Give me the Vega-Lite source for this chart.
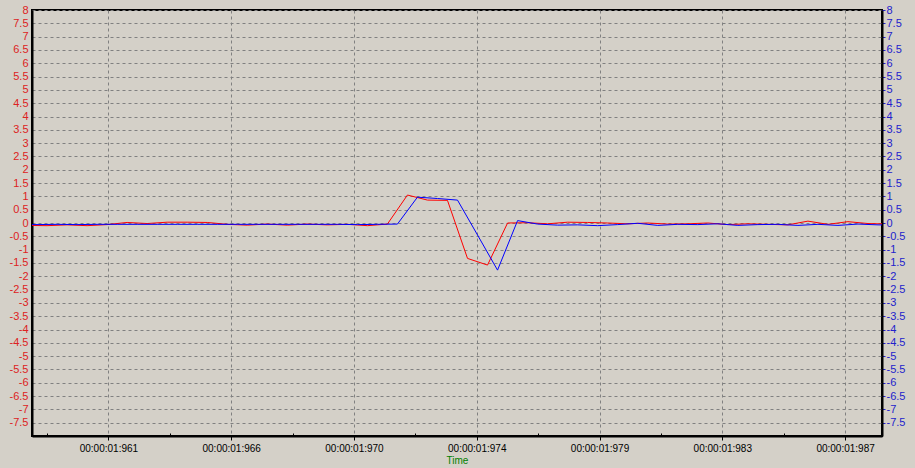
{
  "$schema": "https://vega.github.io/schema/vega-lite/v6.json",
  "width": 850,
  "height": 426,
  "autosize": {"type": "none"},
  "padding": {"left": 32, "top": 10, "right": 33, "bottom": 32},
  "background": "#d4d0c8",
  "config": {
    "view": {"stroke": "#000000", "strokeWidth": 2, "fill": "#d4d0c8"},
    "axis": {"labelFont": "Liberation Sans", "titleFont": "Liberation Sans"}
  },
  "datasets": {
    "red": [
      {"t": 958.793, "v": -0.09}, {"t": 959.500, "v": -0.10}, {"t": 960.207, "v": -0.07}, {"t": 960.913, "v": -0.10},
      {"t": 961.620, "v": -0.06}, {"t": 962.327, "v": 0.02}, {"t": 963.034, "v": -0.02}, {"t": 963.740, "v": 0.03},
      {"t": 964.447, "v": 0.03}, {"t": 965.154, "v": 0.02}, {"t": 965.861, "v": -0.05}, {"t": 966.567, "v": -0.08},
      {"t": 967.274, "v": -0.04}, {"t": 967.981, "v": -0.08}, {"t": 968.687, "v": -0.04}, {"t": 969.394, "v": -0.07},
      {"t": 970.101, "v": -0.05}, {"t": 970.808, "v": -0.10}, {"t": 971.514, "v": -0.04}, {"t": 972.221, "v": 1.05},
      {"t": 972.928, "v": 0.86}, {"t": 973.634, "v": 0.85}, {"t": 974.341, "v": -1.33}, {"t": 975.048, "v": -1.58},
      {"t": 975.755, "v": 0.00}, {"t": 976.461, "v": 0.01}, {"t": 977.168, "v": -0.03}, {"t": 977.875, "v": 0.03},
      {"t": 978.581, "v": 0.02}, {"t": 979.288, "v": 0.00}, {"t": 979.995, "v": -0.03}, {"t": 980.702, "v": 0.00},
      {"t": 981.408, "v": -0.04}, {"t": 982.115, "v": -0.03}, {"t": 982.822, "v": 0.00}, {"t": 983.529, "v": -0.06},
      {"t": 984.235, "v": -0.03}, {"t": 984.942, "v": -0.05}, {"t": 985.649, "v": -0.07}, {"t": 986.355, "v": 0.07},
      {"t": 987.062, "v": -0.05}, {"t": 987.769, "v": 0.05}, {"t": 988.476, "v": -0.02}, {"t": 989.182, "v": -0.04}
    ],
    "blue": [
      {"t": 958.440, "v": -0.05}, {"t": 959.147, "v": -0.06}, {"t": 959.853, "v": -0.05}, {"t": 960.560, "v": -0.06},
      {"t": 961.267, "v": -0.05}, {"t": 961.974, "v": -0.05}, {"t": 962.680, "v": -0.05}, {"t": 963.387, "v": -0.05},
      {"t": 964.094, "v": -0.05}, {"t": 964.800, "v": -0.05}, {"t": 965.507, "v": -0.05}, {"t": 966.214, "v": -0.05},
      {"t": 966.921, "v": -0.05}, {"t": 967.627, "v": -0.05}, {"t": 968.334, "v": -0.05}, {"t": 969.041, "v": -0.05},
      {"t": 969.748, "v": -0.05}, {"t": 970.454, "v": -0.06}, {"t": 971.161, "v": -0.05}, {"t": 971.868, "v": -0.04},
      {"t": 972.574, "v": 0.97}, {"t": 973.281, "v": 0.92}, {"t": 973.988, "v": 0.86}, {"t": 974.694, "v": -0.45},
      {"t": 975.401, "v": -1.77}, {"t": 976.108, "v": 0.09}, {"t": 976.815, "v": -0.04}, {"t": 977.521, "v": -0.08},
      {"t": 978.228, "v": -0.07}, {"t": 978.935, "v": -0.10}, {"t": 979.641, "v": -0.06}, {"t": 980.348, "v": -0.01},
      {"t": 981.055, "v": -0.09}, {"t": 981.762, "v": -0.05}, {"t": 982.468, "v": -0.06}, {"t": 983.175, "v": -0.03},
      {"t": 983.882, "v": -0.09}, {"t": 984.588, "v": -0.06}, {"t": 985.295, "v": -0.05}, {"t": 986.002, "v": -0.09},
      {"t": 986.709, "v": -0.05}, {"t": 987.415, "v": -0.09}, {"t": 988.122, "v": -0.04}, {"t": 988.829, "v": -0.07},
      {"t": 989.535, "v": -0.08}
    ]
  },
  "layer": [
    {
      "data": {"name": "red"},
      "mark": {"type": "line", "color": "#ff0000", "strokeWidth": 1, "clip": true},
      "encoding": {
        "x": {
          "field": "t", "type": "quantitative",
          "scale": {"domain": [958.97, 988.97], "nice": false, "zero": false},
          "axis": {
            "values": [959.5, 960.5833, 961.6667, 962.75, 963.8333, 964.9167, 966.0, 967.0833, 968.1667, 969.25, 970.3333, 971.4167, 972.5, 973.5833, 974.6667, 975.75, 976.8333, 977.9167, 979.0, 980.0833, 981.1667, 982.25, 983.3333, 984.4167, 985.5, 986.5833, 987.6667, 988.75],
            "labelExpr": "abs((datum.value-961.6667)/4.33333 - round((datum.value-961.6667)/4.33333)) < 0.01 ? '00:00:01:' + floor(datum.value) : ''",
            "title": "Time",
            "titleColor": "#008000",
            "titleFontSize": 10,
            "titleFontWeight": "normal",
            "titlePadding": 2,
            "labelFontSize": 10,
            "labelColor": "#000000",
            "labelPadding": 3,
            "labelOverlap": false,
            "labelFlush": false,
            "grid": true,
            "gridDash": [3, 3],
            "gridColor": "#808080",
            "gridOpacity": {"condition": {"test": "abs((datum.value-961.6667)/4.33333 - round((datum.value-961.6667)/4.33333)) < 0.01", "value": 1}, "value": 0},
            "ticks": true,
            "tickColor": "#000000",
            "tickSize": {"condition": {"test": "abs((datum.value-961.6667)/4.33333 - round((datum.value-961.6667)/4.33333)) < 0.01", "value": 4}, "value": -3},
            "domain": true,
            "domainColor": "#000000",
            "domainWidth": 2
          }
        },
        "y": {
          "field": "v", "type": "quantitative",
          "scale": {"domain": [-8, 8], "nice": false, "zero": false},
          "axis": {
            "orient": "left",
            "values": [-7.5, -7, -6.5, -6, -5.5, -5, -4.5, -4, -3.5, -3, -2.5, -2, -1.5, -1, -0.5, 0, 0.5, 1, 1.5, 2, 2.5, 3, 3.5, 4, 4.5, 5, 5.5, 6, 6.5, 7, 7.5, 8],
            "labelExpr": "'' + datum.value",
            "labelColor": "#dd2222",
            "labelFontSize": 11,
            "labelPadding": 4,
            "labelOverlap": false,
            "labelFlush": false,
            "ticks": false,
            "grid": true,
            "gridDash": [3, 3],
            "gridColor": "#808080",
            "domain": true,
            "domainColor": "#000000",
            "domainWidth": 2,
            "title": null
          }
        }
      }
    },
    {
      "data": {"name": "blue"},
      "mark": {"type": "line", "color": "#0000ff", "strokeWidth": 1, "clip": true},
      "encoding": {
        "x": {
          "field": "t", "type": "quantitative",
          "scale": {"domain": [958.97, 988.97], "nice": false, "zero": false}
        },
        "y": {
          "field": "v", "type": "quantitative",
          "scale": {"domain": [-8, 8], "nice": false, "zero": false},
          "axis": {
            "orient": "right",
            "values": [-7.5, -7, -6.5, -6, -5.5, -5, -4.5, -4, -3.5, -3, -2.5, -2, -1.5, -1, -0.5, 0, 0.5, 1, 1.5, 2, 2.5, 3, 3.5, 4, 4.5, 5, 5.5, 6, 6.5, 7, 7.5, 8],
            "labelExpr": "'' + datum.value",
            "labelColor": "#2222cc",
            "labelFontSize": 11,
            "labelPadding": 1,
            "labelOverlap": false,
            "labelFlush": false,
            "ticks": true,
            "tickSize": 3,
            "tickColor": "#2222cc",
            "grid": false,
            "domain": true,
            "domainColor": "#000000",
            "domainWidth": 2,
            "title": null
          }
        }
      }
    }
  ],
  "resolve": {"scale": {"y": "independent"}}
}
